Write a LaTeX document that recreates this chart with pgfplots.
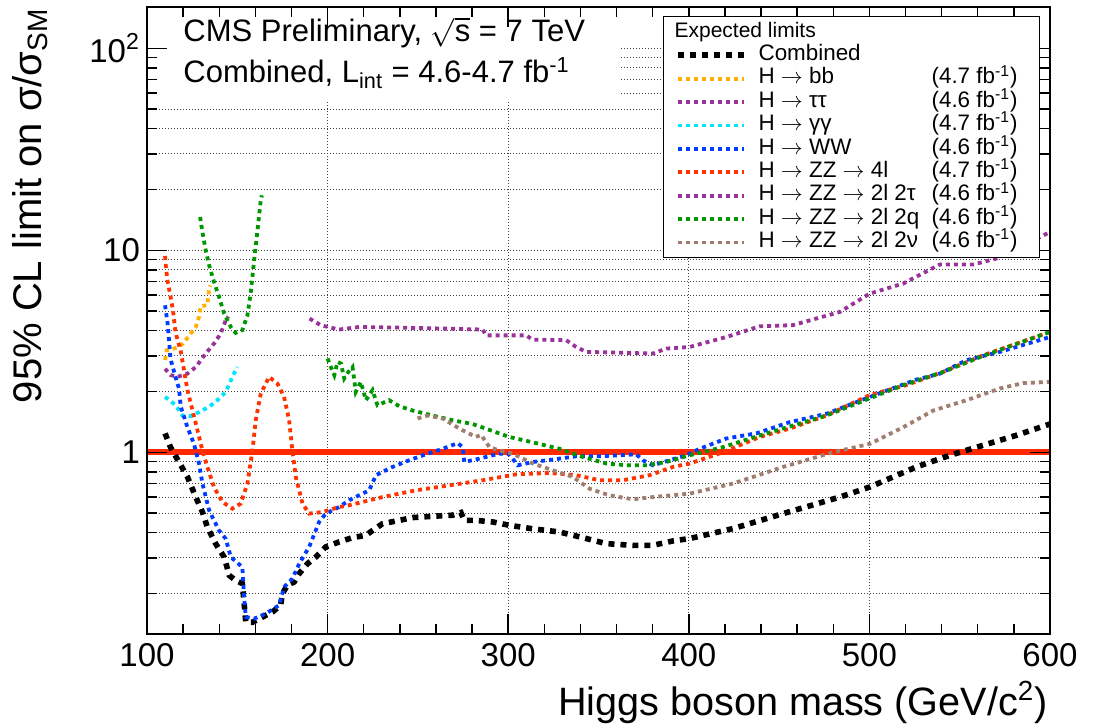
\documentclass[border=0pt]{standalone}
\usepackage{pgfplots}
\pgfplotsset{compat=1.18}
\usepackage{fontspec}
\setmainfont{Liberation Sans}

\definecolor{cmsorange}{RGB}{255,176,0}
\definecolor{cmspurple}{RGB}{153,51,153}
\definecolor{cmscyan}{RGB}{0,230,255}
\definecolor{cmsblue}{RGB}{0,60,255}
\definecolor{cmsred}{RGB}{255,51,0}
\definecolor{cmsgreen}{RGB}{0,150,0}
\definecolor{cmsbrown}{RGB}{160,125,110}
\definecolor{lineRed}{RGB}{255,40,0}

\pgfplotsset{
  layers/cmslayers/.define layer set={axis background,axis grid,textbox,axis tick labels,pre main,main,axis ticks,axis lines,axis descriptions,axis foreground}{
    grid style={/pgfplots/on layer=axis grid},
    tick style={/pgfplots/on layer=axis ticks},
    axis line style={/pgfplots/on layer=axis lines},
    label style={/pgfplots/on layer=axis descriptions},
    legend style={/pgfplots/on layer=axis descriptions},
    title style={/pgfplots/on layer=axis descriptions},
    ticklabel style={/pgfplots/on layer=axis tick labels},
  },
  dotline/.style={line width=1.9pt, dash pattern=on 2pt off 2pt},
}

\begin{document}
\begin{tikzpicture}
\begin{axis}[
  set layers=cmslayers,
  scale only axis, width=451.5pt, height=313.5pt,
  xmin=100, xmax=600, ymin=0.126, ymax=160,
  ymode=log,
  xtick={100,200,300,400,500,600}, minor x tick num=4,
  ytick={1,10,100}, yticklabels={1,10,10\textsuperscript{2}},
  minor ytick={0.2,0.3,0.4,0.5,0.6,0.7,0.8,0.9,2,3,4,5,6,7,8,9,20,30,40,50,60,70,80,90},
  xmajorgrids, ymajorgrids, yminorgrids,
  major grid style={line width=0.5pt, black!75, dash pattern=on 0.5pt off 1pt},
  minor grid style={line width=0.5pt, black!75, dash pattern=on 0.5pt off 1pt},
  major tick length=10pt, minor tick length=5pt,
  tick style={line width=0.7pt, black},
  axis line style={line width=1.3pt},
  tick label style={font=\fontsize{16.5}{18}\selectfont},
  /pgf/number format/assume math mode=true,
  xticklabel style={yshift=-1pt},
  xlabel={Higgs boson mass (GeV/c\textsuperscript{2})},
  ylabel={95\% CL limit on σ/σ\textsubscript{SM}},
  every axis x label/.style={at={(rel axis cs:1,0)}, anchor=base east, inner sep=0pt, xshift=-1pt, yshift=-41pt, font=\fontsize{19.8}{24}\selectfont},
  every axis y label/.style={at={(rel axis cs:0,1)}, xshift=-58.5pt, yshift=-0.5pt, rotate=90, anchor=east, inner sep=0pt, font=\fontsize{20}{24}\selectfont},
  legend style={at={(rel axis cs:1,1)}, anchor=north east, xshift=-5pt, yshift=-4.5pt,
    draw=black, line width=0.6pt, fill=white, inner xsep=6pt, inner ysep=1.8pt,
    font=\fontsize{11.2}{12}\selectfont, row sep=0pt, column sep=5.5pt,
    nodes={inner sep=0.4pt, text height=8.1pt, text depth=2.8pt}},
  legend cell align=left,
  legend image code/.code={\draw[#1] (0pt,0pt) -- (33pt,0pt);},
]

\begin{pgfonlayer}{textbox}
\node[fill=white, inner sep=0pt, anchor=north west, minimum width=236pt, minimum height=46.5pt] at (rel axis cs:0,1) {};
\node[anchor=base west, inner sep=0pt, xshift=18pt, yshift=-17.5pt, font=\fontsize{15.5}{18}\selectfont] at (rel axis cs:0,1) {CMS Preliminary, $\sqrt{\mbox{s}}$ = 7 TeV};
\node[anchor=base west, inner sep=0pt, xshift=18pt, yshift=-38pt, font=\fontsize{15.5}{18}\selectfont] at (rel axis cs:0,1) {Combined, L\textsubscript{int} = 4.6-4.7 fb\textsuperscript{-1}};
\end{pgfonlayer}

\addplot[lineRed, line width=3pt, forget plot] coordinates {(100,1) (600,1)};

\addlegendimage{empty legend}
\addlegendentry{\makebox[134pt][l]{\hspace{-42pt}\fontsize{10.5}{12}\selectfont Expected limits}}

% Combined
\addplot[black, line width=2.8pt, dash pattern=on 3pt off 3pt] coordinates {
(110,1.24) (113,1.06) (117.7,0.895) (122.4,0.755) (127,0.60) (130.7,0.506) (133.4,0.427)
(138,0.353) (142.7,0.303) (144.5,0.266) (145.5,0.246) (149,0.232) (152.8,0.224) (153.8,0.178)
(154.7,0.144) (158.4,0.144) (164,0.153) (169.5,0.162) (174,0.175) (175,0.20) (177.8,0.22)
(181.5,0.228) (184.3,0.251) (188.9,0.281) (193.5,0.303) (199,0.34) (206.4,0.36) (213.8,0.378)
(221.2,0.388) (224.9,0.41) (230.4,0.443) (239.7,0.46) (247,0.475) (258,0.482) (269.2,0.488)
(273.8,0.503) (275.7,0.46) (282.1,0.46) (291.4,0.452) (300.6,0.435) (313.5,0.418) (328.4,0.403)
(341.3,0.378) (354.2,0.353) (369,0.346) (380,0.346) (391.2,0.364) (400.4,0.374) (424.5,0.419)
(452.2,0.497) (483.6,0.60) (500.2,0.673) (526,0.846) (544.6,0.966) (563,1.083) (581.5,1.214) (600,1.38)
};
\addlegendentry{\makebox[134pt][l]{Combined}}

% H -> bb
\addplot[cmsorange, dotline] coordinates {
(110,2.86) (111,3.2) (117,3.3) (120,3.45) (123,3.75) (127,4.17) (128.8,4.67) (129.7,5.29)
(133.4,5.34) (134.4,6.45) (135,6.7)
};
\addlegendentry{\makebox[134pt][l]{\makebox[86.5pt][l]{H $\rightarrow$ bb}(4.7 fb\textsuperscript{-1})}}

% H -> tautau
\addplot[cmspurple, dotline] coordinates {
(110,2.59) (113.1,2.41) (116.8,2.36) (122.4,2.45) (127,2.64) (132.5,3.08) (137.1,3.45)
(140.8,3.87) (143.6,4.5) (145,4.7)
};
\addlegendentry{\makebox[134pt][l]{\makebox[86.5pt][l]{H $\rightarrow$ ττ}(4.6 fb\textsuperscript{-1})}}

% H -> gammagamma
\addplot[cmscyan, dotline] coordinates {
(110,1.88) (115.9,1.71) (119.6,1.52) (124.2,1.51) (128.8,1.58) (134.4,1.68) (139,1.81)
(143.6,1.99) (147.3,2.36) (150,2.64)
};
\addlegendentry{\makebox[134pt][l]{\makebox[86.5pt][l]{H $\rightarrow$ γγ}(4.7 fb\textsuperscript{-1})}}

% H -> WW
\addplot[cmsblue, dotline] coordinates {
(110,5.34) (111.3,4.42) (112.2,3.6) (113,2.9) (115.8,2.36) (117.7,2.07) (118.7,1.68)
(122.4,1.33) (126,1.10) (128.8,0.88) (130.7,0.70) (134.4,0.516) (137.1,0.46) (139.9,0.41)
(143.6,0.373) (146.4,0.303) (152.8,0.27) (153.8,0.19) (154.7,0.153) (159.3,0.15) (165.8,0.159)
(173.2,0.175) (175.9,0.215) (180.5,0.237) (184.3,0.281) (189.8,0.34) (195.3,0.452) (199,0.497)
(206.4,0.536) (212,0.579) (223,0.648) (226.8,0.77) (236,0.846) (245.2,0.913) (254.4,0.977)
(263.7,1.04) (272,1.11) (274.8,1.06) (275.7,0.895) (284,0.93) (295.1,0.985) (300.6,0.977)
(305.3,0.862) (313.6,0.895) (324.7,0.92) (337.6,0.955) (350.6,0.955) (361.6,0.966) (370.9,0.977)
(374.6,0.913) (380.1,0.862) (389.4,0.913) (398.6,0.966) (406,1.04) (420.8,1.17) (437.4,1.24)
(455.9,1.41) (476.2,1.55) (492.8,1.77) (507.6,1.99) (526.1,2.29) (539,2.45) (553.8,2.86)
(572.3,3.14) (600,3.72)
};
\addlegendentry{\makebox[134pt][l]{\makebox[86.5pt][l]{H $\rightarrow$ WW}(4.6 fb\textsuperscript{-1})}}

% H -> ZZ -> 4l
\addplot[cmsred, dotline] coordinates {
(110,9.37) (110.4,8.4) (111.3,7.1) (112.2,6.45) (113.1,5.87) (114.4,5.05) (115.5,4.1)
(116.4,3.75) (118.6,3.2) (120.5,2.55) (122.4,2.03) (125.2,1.61) (127.9,1.29) (130.7,1.02)
(133.4,0.846) (137.1,0.673) (141.7,0.568) (147.3,0.526) (151.9,0.557) (155.6,0.70) (158.4,1.02)
(160.2,1.44) (163,1.95) (167.6,2.36) (172.2,2.19) (175.9,1.88) (178.7,1.44) (180.5,1.02)
(182.4,0.755) (186.1,0.557) (189.8,0.497) (197.2,0.506) (206.4,0.536) (212,0.547) (230.4,0.60)
(248.9,0.648) (267.4,0.686) (285.9,0.727) (304.4,0.778) (322.8,0.79) (337.6,0.77) (350.6,0.727)
(363.5,0.727) (378.3,0.77) (391.2,0.846) (400.4,0.879) (418.9,1.0) (439.2,1.19) (455.9,1.31)
(476.2,1.52) (500.2,1.92) (520.5,2.15) (540.8,2.5) (563,3.02) (600,3.94)
};
\addlegendentry{\makebox[134pt][l]{\makebox[86.5pt][l]{H $\rightarrow$ ZZ $\rightarrow$ 4l}(4.7 fb\textsuperscript{-1})}}

% H -> ZZ -> 2l 2tau
\addplot[cmspurple, dotline] coordinates {
(190,4.59) (196.3,4.25) (206.4,4.05) (217.5,4.17) (239.7,4.14) (261.9,4.1) (285.9,4.05)
(287.7,3.79) (309.9,3.79) (313.6,3.61) (332.1,3.59) (337.6,3.32) (343.2,3.14) (369,3.1)
(380.1,3.08) (387.5,3.26) (400.4,3.32) (420.8,3.72) (439.2,4.2) (457.7,4.26) (483.6,4.95)
(500.2,6.1) (518.7,6.84) (539,8.5) (557.5,8.5) (570.4,9.1) (600,12.3)
};
\addlegendentry{\makebox[134pt][l]{\makebox[86.5pt][l]{H $\rightarrow$ ZZ $\rightarrow$ 2l 2τ}(4.6 fb\textsuperscript{-1})}}

% H -> ZZ -> 2l 2q
\addplot[cmsgreen, dotline] coordinates {
(129.4,14.6) (130.7,12.3) (132.5,10) (134.4,8.44) (137.1,6.97) (139.9,5.88) (142.7,4.86)
(146.4,4.17) (149.1,3.9) (152.8,4.02) (155.6,4.76) (157.5,6.22) (159.3,8.9) (161.2,12.6)
(163,17.7) (163.6,18.7)
};
\addlegendentry{\makebox[134pt][l]{\makebox[86.5pt][l]{H $\rightarrow$ ZZ $\rightarrow$ 2l 2q}(4.6 fb\textsuperscript{-1})}}
\addplot[cmsgreen, dotline, forget plot] coordinates {
(200,2.91) (201.8,2.64) (203.7,2.41) (205.5,2.8) (207.4,2.75) (209.2,2.32) (211.5,2.5)
(213.8,2.64) (215.6,1.99) (218.4,2.23) (221.2,1.81) (224.9,2.03) (227.6,1.71) (234.1,1.81)
(239.7,1.69) (247,1.61) (258.1,1.52) (269.2,1.44) (280.3,1.38) (289.6,1.29) (300.7,1.19)
(313.6,1.12) (328.4,1.04) (341.4,0.948) (354.3,0.88) (365.4,0.862) (376.4,0.862) (387.5,0.895)
(400.4,0.966) (418.9,1.06) (439.2,1.21) (476.2,1.52) (518.7,2.15) (540,2.48) (563,3.0) (600,3.94)
};

% H -> ZZ -> 2l 2nu
\addplot[cmsbrown, dotline] coordinates {
(249.8,1.47) (255.4,1.52) (263.7,1.47) (273,1.31) (282.1,1.19) (285,1.22) (289.6,1.06)
(295.1,1.02) (302.5,0.985) (313.6,0.88) (324.7,0.814) (335.8,0.755) (345,0.66) (356.1,0.612)
(369,0.585) (380.1,0.60) (400.4,0.624) (424.5,0.70) (452.2,0.846) (479.9,1.0) (500.2,1.10)
(518.7,1.33) (535.4,1.61) (553.8,1.81) (572.3,2.07) (585.2,2.2) (600,2.23)
};
\addlegendentry{\makebox[134pt][l]{\makebox[86.5pt][l]{H $\rightarrow$ ZZ $\rightarrow$ 2l 2ν}(4.6 fb\textsuperscript{-1})}}

\end{axis}
\pgfresetboundingbox
\useasboundingbox (-73.5pt,-47pt) rectangle (476.5pt,317pt);
\end{tikzpicture}
\end{document}
